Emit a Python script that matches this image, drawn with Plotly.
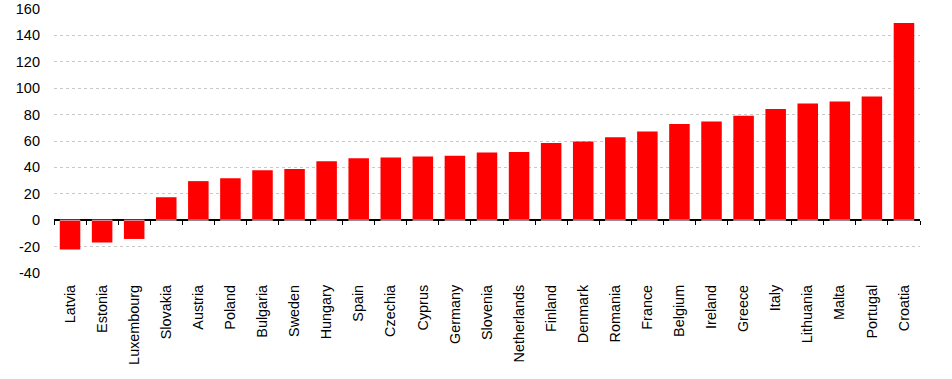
import plotly.graph_objects as go

countries = ["Latvia", "Estonia", "Luxembourg", "Slovakia", "Austria", "Poland", "Bulgaria",
             "Sweden", "Hungary", "Spain", "Czechia", "Cyprus", "Germany", "Slovenia",
             "Netherlands", "Finland", "Denmark", "Romania", "France", "Belgium", "Ireland",
             "Greece", "Italy", "Lithuania", "Malta", "Portugal", "Croatia"]
values = [-22.2, -16.9, -14.2, 17.4, 29.6, 31.8, 37.9, 38.7, 44.7, 47.0, 47.5, 48.3, 48.8,
          51.3, 51.6, 58.4, 59.6, 62.9, 67.2, 72.8, 74.8, 79.1, 84.2, 88.5, 90.0, 93.8, 149.4]
y_ticks = [-40, -20, 0, 20, 40, 60, 80, 100, 120, 140, 160]
y_tick_text = [str(v) for v in y_ticks]

y_min, y_max = -40, 160

fig = go.Figure()
fig.add_trace(go.Bar(x=countries, y=values, marker=dict(color="#FF0000", line=dict(width=0)),
                     showlegend=False))
# invisible copy to drive the tick-mark axis positioned at zero
fig.add_trace(go.Bar(x=countries, y=[0]*len(countries), xaxis="x2", marker=dict(color="rgba(0,0,0,0)"),
                     showlegend=False, hoverinfo="skip"))

font = dict(family="Liberation Sans, Arial, sans-serif", size=14, color="#000000")

fig.update_layout(
    width=952, height=379,
    margin=dict(l=54, r=32, t=9, b=106, autoexpand=False),
    plot_bgcolor="white", paper_bgcolor="white",
    bargap=0.36,
    font=font,
    xaxis=dict(
        type="category", categoryorder="array", categoryarray=countries,
        tickangle=-90, showline=False, ticks="", showgrid=False, zeroline=False,
        tickfont=dict(size=14.4), ticklabelstandoff=8, automargin=False,
    ),
    xaxis2=dict(
        type="category", categoryorder="array", categoryarray=countries,
        overlaying="x", matches="x", anchor="free",
        position=(0 - y_min) / (y_max - y_min),
        showticklabels=False, ticks="outside", ticklen=4, tickwidth=1, tickcolor="#000000",
        tickson="boundaries", showline=False, showgrid=False, zeroline=False, automargin=False,
    ),
    yaxis=dict(
        range=[y_min, y_max], tickvals=y_ticks, ticktext=y_tick_text, ticks="", showline=False,
        showgrid=True, gridcolor="#c8c8c8", griddash="dot", gridwidth=1,
        zeroline=True, zerolinecolor="#000000", zerolinewidth=1.5,
        tickfont=dict(size=14.5), ticklabelstandoff=13, automargin=False,
    ),
)

fig.write_html("out.html",
               config={"displayModeBar": False},
               post_script="document.body.style.margin='0';document.body.style.overflow='hidden';")
